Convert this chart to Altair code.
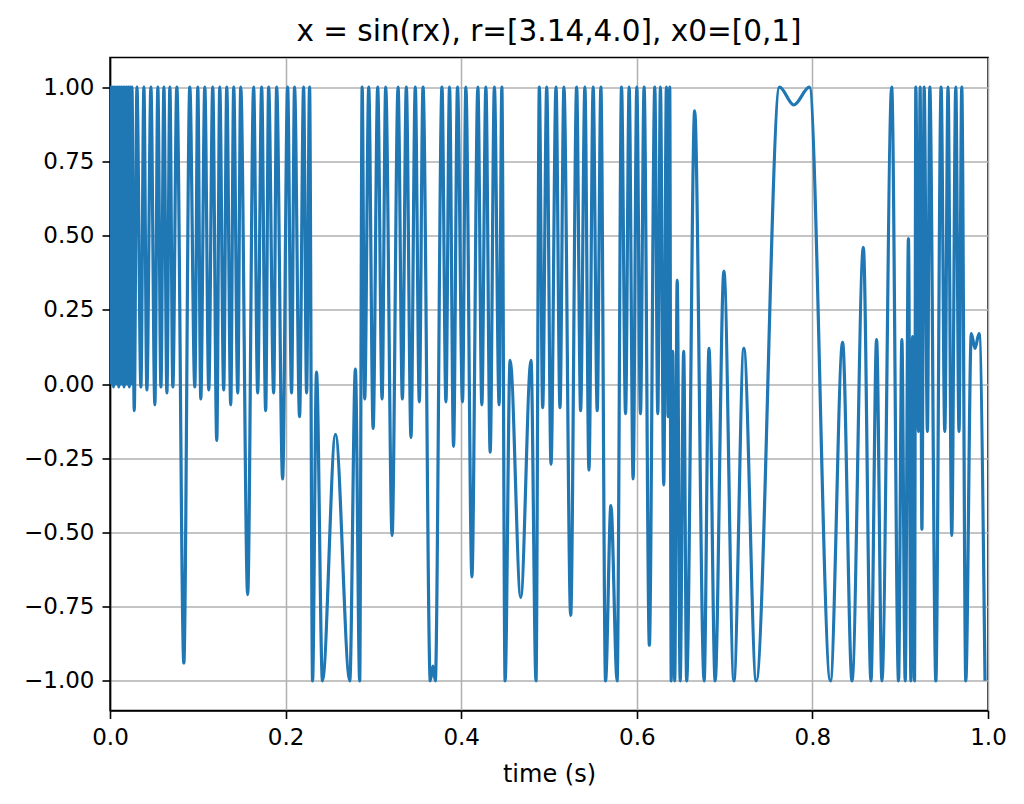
import altair as alt
import pandas as pd

# turning points (time in s, value)
dense_t = [0.000, 0.001, 0.002, 0.003, 0.004, 0.005, 0.006, 0.007, 0.008, 0.009,
           0.010, 0.011, 0.012, 0.013, 0.014, 0.015, 0.016, 0.017, 0.018, 0.019,
           0.020, 0.021, 0.022, 0.023, 0.024, 0.025]
dense_x = [0.0, 1.0, 0.0, 1.0, -0.01, 1.0, 0.0, 1.0, 0.0, 1.0,
           -0.01, 1.0, 0.0, 1.0, 0.0, 1.0, -0.01, 1.0, 0.0, 1.0,
           0.0, 1.0, -0.01, 1.0, 0.0, 1.0]

seg1_t = [0.0276, 0.0307, 0.0352, 0.0386, 0.0420, 0.0466, 0.0511, 0.0545, 0.0580, 0.0614,
          0.0648, 0.0682, 0.0716, 0.0761, 0.0841, 0.0909, 0.0966, 0.1000, 0.1034, 0.1080,
          0.1125, 0.1170, 0.1216, 0.1250, 0.1295, 0.1330, 0.1375, 0.1409, 0.1455, 0.1489,
          0.1568, 0.1636, 0.1682, 0.1727, 0.1773, 0.1807, 0.1864, 0.1898, 0.1966, 0.2023,
          0.2068, 0.2102, 0.2159, 0.2205, 0.2239, 0.2273, 0.2307, 0.2352, 0.2420]
seg1_x = [-0.09, 1.0, -0.01, 1.0, -0.02, 1.0, -0.07, 1.0, -0.01, 1.0,
          -0.03, 1.0, -0.01, 1.0, -0.94, 1.0, -0.01, 1.0, -0.05, 1.0,
          -0.02, 1.0, -0.19, 1.0, -0.02, 1.0, -0.07, 1.0, -0.03, 1.0,
          -0.71, 1.0, -0.03, 1.0, -0.09, 1.0, -0.03, 1.0, -0.32, 1.0,
          -0.03, 1.0, -0.11, 1.0, -0.03, 1.0, -1.0, 0.04, -1.0]

seg2_t = [0.2568, 0.2731, 0.2795, 0.2844, 0.2872, 0.2901, 0.2947, 0.2997, 0.3049, 0.3099,
          0.3140, 0.3213, 0.3281, 0.3330, 0.3375, 0.3428, 0.3477, 0.3523, 0.3565, 0.3648,
          0.3678, 0.3705, 0.3781, 0.3826, 0.3867, 0.3913, 0.3958, 0.4015, 0.4053, 0.4122,
          0.4190, 0.4235, 0.4281, 0.4330, 0.4378, 0.4432, 0.4463, 0.4500, 0.4557, 0.4678,
          0.4795, 0.4852]
seg2_x = [-0.17, -1.0, 0.05, -1.0, 1.0, -0.05, 1.0, -0.15, 1.0, -0.05,
          1.0, -0.51, 1.0, -0.05, 1.0, -0.18, 1.0, -0.06, 1.0, -1.0,
          -0.95, -1.0, 1.0, -0.06, 1.0, -0.21, 1.0, -0.06, 1.0, -0.65,
          1.0, -0.07, 1.0, -0.23, 1.0, -0.07, 1.0, -1.0, 0.08, -0.72,
          0.08, -1.0]

seg3_t = [0.4890, 0.4928, 0.4974, 0.5023, 0.5080, 0.5125, 0.5170, 0.5247, 0.5315, 0.5360,
          0.5409, 0.5455, 0.5503, 0.5549, 0.5591, 0.5644, 0.5705, 0.5776, 0.5826, 0.5872,
          0.5913, 0.5958, 0.6000, 0.6042, 0.6083, 0.6143, 0.6205, 0.6239, 0.6269, 0.6307,
          0.6337, 0.6356, 0.6375, 0.6392, 0.6409, 0.6432, 0.6460, 0.6494, 0.6534, 0.6568,
          0.6659, 0.6767, 0.6822, 0.6892, 0.6992, 0.7106, 0.7219, 0.7360]
seg3_x = [1.0, -0.08, 1.0, -0.27, 1.0, -0.08, 1.0, -0.78, 1.0, -0.09,
          1.0, -0.29, 1.0, -0.09, 1.0, -1.0, -0.41, -1.0, 1.0, -0.10,
          1.0, -0.32, 1.0, -0.10, 1.0, -0.88, 1.0, -0.10, 1.0, -0.34,
          1.0, -0.11, 1.0, -1.0, 0.11, -1.0, 0.35, -1.0, 0.11, -1.0,
          0.92, -1.0, 0.12, -1.0, 0.38, -1.0, 0.12, -1.0]

seg4_t = [0.7625, 0.7788, 0.7966, 0.8205, 0.8344, 0.8451, 0.8580, 0.8667, 0.8731, 0.8792,
          0.8903, 0.8981, 0.9019, 0.9057, 0.9094, 0.9122, 0.9140, 0.9163, 0.9178, 0.9208,
          0.9227, 0.9247, 0.9273, 0.9310, 0.9337, 0.9406, 0.9466, 0.9508, 0.9545, 0.9587,
          0.9633, 0.9670, 0.9701, 0.9747, 0.9810, 0.9852, 0.9898, 0.9966]
seg4_x = [1.0, 0.94, 1.0, -1.0, 0.14, -1.0, 0.46, -1.0, 0.15, -1.0,
          1.0, -1.0, 0.15, -1.0, 0.49, -1.0, 0.16, -1.0, 1.0, -0.16,
          1.0, -0.49, 1.0, -0.16, 1.0, -1.0, 1.0, -0.16, 1.0, -0.51,
          1.0, -0.16, 1.0, -1.0, 0.17, 0.12, 0.17, -1.0]

x_ticks = [0.0, 0.2, 0.4, 0.6, 0.8, 1.0]
y_ticks = [-1.0, -0.75, -0.5, -0.25, 0.0, 0.25, 0.5, 0.75, 1.0]

t_all = dense_t + seg1_t + seg2_t + seg3_t + seg4_t
x_all = dense_x + seg1_x + seg2_x + seg3_x + seg4_x
df = pd.DataFrame({"t": t_all, "x": x_all, "order": list(range(len(t_all)))})

FONT = "DejaVu Sans"

chart = (
    alt.Chart(df)
    .mark_line(interpolate="monotone", color="#1f77b4", strokeWidth=3.2, clip=True)
    .encode(
        x=alt.X("t:Q",
                scale=alt.Scale(domain=[0, 1], nice=False, zero=False),
                axis=alt.Axis(values=x_ticks, format=".1f", title="time (s)",
                              titlePadding=13, labelFlush=False)),
        y=alt.Y("x:Q",
                scale=alt.Scale(domain=[-1.1, 1.1], nice=False, zero=False),
                axis=alt.Axis(values=y_ticks, format=".2f", title=None,
                              labelFlush=False)),
        order="order:Q",
    )
    .properties(
        width=878,
        height=653,
        title=alt.TitleParams("x = sin(rx), r=[3.14,4.0], x0=[0,1]",
                              font=FONT, fontSize=29.5, fontWeight="normal",
                              color="#000000", offset=10, anchor="middle"),
        autosize=alt.AutoSizeParams(type="none"),
        padding={"left": 102, "top": 49.5, "right": 28, "bottom": 85.5},
    )
    .configure_view(stroke="#000000", strokeWidth=1.6)
    .configure_axis(
        labelFont=FONT, labelFontSize=23, labelColor="#000000",
        titleFont=FONT, titleFontSize=24, titleFontWeight="normal", titleColor="#000000",
        domainColor="#000000", domainWidth=1.6,
        tickColor="#000000", tickWidth=1.6, tickSize=8, labelPadding=8,
        grid=True, gridColor="#b0b0b0", gridWidth=1.5,
    )
)

chart.save("out.html", embed_options={"renderer": "svg", "actions": False})
